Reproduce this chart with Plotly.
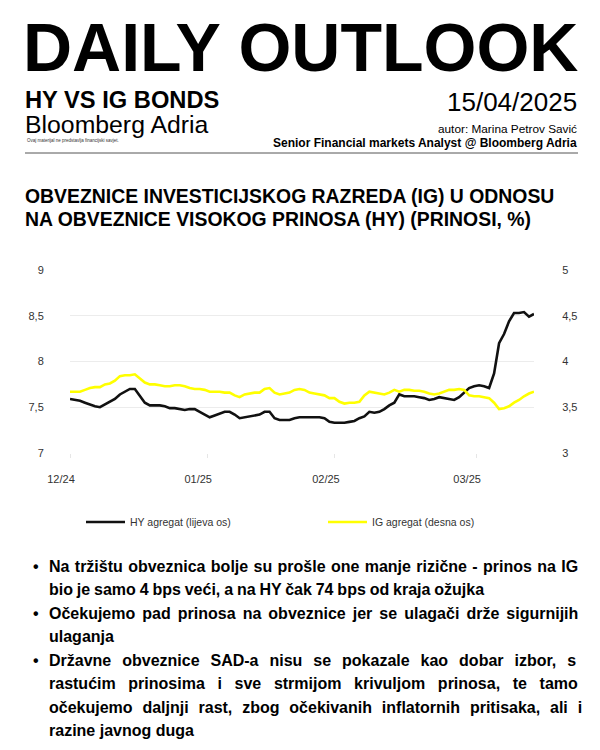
import plotly.graph_objects as go

# ---------------- data ----------------
day_index = list(range(94))

hy_yield = [7.59, 7.58, 7.57, 7.55, 7.53, 7.51, 7.50, 7.53, 7.56, 7.59,
            7.64, 7.67, 7.70, 7.70, 7.62, 7.55, 7.52, 7.52, 7.52, 7.51,
            7.49, 7.49, 7.48, 7.47, 7.48, 7.48, 7.45, 7.42, 7.39, 7.41,
            7.43, 7.45, 7.45, 7.42, 7.38, 7.39, 7.40, 7.41, 7.42, 7.45,
            7.45, 7.38, 7.36, 7.36, 7.36, 7.38, 7.39, 7.39, 7.39, 7.39,
            7.39, 7.38, 7.34, 7.33, 7.33, 7.33, 7.34, 7.35, 7.38, 7.40,
            7.45, 7.44, 7.45, 7.48, 7.52, 7.55, 7.64, 7.62, 7.62, 7.62,
            7.61, 7.60, 7.58, 7.59, 7.61, 7.60, 7.59, 7.58, 7.61, 7.66,
            7.71, 7.73, 7.74, 7.73, 7.71, 7.87, 8.20, 8.30, 8.44, 8.53,
            8.53, 8.54, 8.49, 8.52]

ig_yield = [3.67, 3.67, 3.67, 3.69, 3.71, 3.72, 3.72, 3.75, 3.76, 3.79,
            3.84, 3.85, 3.85, 3.86, 3.81, 3.77, 3.75, 3.75, 3.74, 3.73,
            3.73, 3.74, 3.74, 3.73, 3.71, 3.70, 3.70, 3.69, 3.67, 3.67,
            3.67, 3.66, 3.66, 3.63, 3.61, 3.64, 3.65, 3.66, 3.66, 3.70,
            3.71, 3.66, 3.64, 3.65, 3.66, 3.69, 3.70, 3.69, 3.66, 3.65,
            3.64, 3.63, 3.60, 3.60, 3.56, 3.54, 3.55, 3.55, 3.56, 3.63,
            3.67, 3.66, 3.65, 3.64, 3.66, 3.69, 3.67, 3.69, 3.69, 3.68,
            3.68, 3.67, 3.65, 3.64, 3.65, 3.67, 3.69, 3.69, 3.70, 3.69,
            3.63, 3.62, 3.62, 3.61, 3.60, 3.55, 3.48, 3.49, 3.51, 3.55,
            3.58, 3.62, 3.65, 3.67]

month_tick_index = [0, 27.5, 53.1, 81.4]
month_tick_labels = ["12/24", "01/25", "02/25", "03/25"]

left_ticks = [7, 7.5, 8, 8.5, 9]
right_ticks = [3, 3.5, 4, 4.5, 5]

series_names = ["HY agregat (lijeva os)", "IG agregat (desna os)"]

# (text line, extra word spacing in px for justification)
bullets = [
    [("Na tržištu obveznica bolje su prošle one manje rizične - prinos na IG", 0.9),
     ("bio je samo 4 bps veći, a na HY čak 74 bps od kraja ožujka", -0.6)],
    [("Očekujemo pad prinosa na obveznice jer se ulagači drže sigurnijih", 2.6),
     ("ulaganja", 0)],
    [("Državne obveznice SAD-a nisu se pokazale kao dobar izbor, s", 6.5),
     ("rastućim prinosima i sve strmijom krivuljom prinosa, te tamo", 8.2),
     ("očekujemo daljnji rast, zbog očekivanih inflatornih pritisaka, ali i", 5.4),
     ("razine javnog duga", 0)],
]

# ---------------- figure ----------------
OFF = 8                       # page body margin
W, H = 600 - OFF, 750 - OFF
FONT = "Liberation Sans, Arial, Helvetica, sans-serif"


def px(x):
    return (x - OFF) / W


def py(y):
    return 1 - (y - OFF) / H


fig = go.Figure()
fig.add_trace(go.Scatter(x=day_index, y=hy_yield, name=series_names[0],
                         mode="lines", line=dict(color="#111111", width=2.6),
                         yaxis="y", legend="legend"))
fig.add_trace(go.Scatter(x=day_index, y=ig_yield, name=series_names[1],
                         mode="lines", line=dict(color="#ffff00", width=2.6),
                         yaxis="y2", legend="legend2"))

x0, x1 = 70, 534
ytop, ybot = 270, 453

legend_common = dict(orientation="h", xanchor="left", yanchor="middle",
                     itemwidth=39,
                     font=dict(family=FONT, size=10.5, color="#333333"),
                     bgcolor="rgba(0,0,0,0)")

fig.update_layout(
    width=W, height=H, autosize=False,
    margin=dict(l=0, r=0, t=0, b=0, autoexpand=False),
    paper_bgcolor="white", plot_bgcolor="white",
    separators=",.",
    font=dict(family=FONT, color="#333333", size=11),
    showlegend=True,
    legend=dict(x=px(81), y=py(522), **legend_common),
    legend2=dict(x=px(323), y=py(522), **legend_common),
    xaxis=dict(domain=[px(x0), px(x1)], range=[0, 93], automargin=False,
               tickvals=month_tick_index, ticktext=month_tick_labels,
               showgrid=False, zeroline=False, showline=False,
               ticks="outside", ticklen=4, tickcolor="#e6e6e6",
               ticklabelstandoff=12, ticklabelshift=-9,
               tickfont=dict(size=11, color="#333333")),
    yaxis=dict(domain=[py(ybot), py(ytop)], range=[7, 9], automargin=False,
               tickvals=left_ticks, showgrid=True, gridcolor="#ececec",
               gridwidth=1, zeroline=False, showline=False,
               ticks="outside", ticklen=23, tickcolor="rgba(0,0,0,0)",
               tickfont=dict(size=11, color="#333333")),
    yaxis2=dict(overlaying="y", side="right", range=[3, 5], automargin=False,
                tickvals=right_ticks, showgrid=False, zeroline=False,
                showline=False, anchor="x",
                ticks="outside", ticklen=25, tickcolor="rgba(0,0,0,0)",
                tickfont=dict(size=11, color="#333333")),
)

ann = []


def text(x, y, s, size, bold=False, anchor="left", color="#000000", wsp=None):
    t = ("<b>%s</b>" % s) if bold else s
    if wsp:
        t = '<span style="word-spacing:%.1fpx">%s</span>' % (wsp, t)
    ann.append(dict(xref="paper", yref="paper", x=px(x), y=py(y),
                    text=t, showarrow=False,
                    xanchor=anchor, yanchor="middle",
                    font=dict(family=FONT, size=size, color=color)))


text(21, 47, "DAILY OUTLOOK", 68, bold=True)
text(23, 100, "HY VS IG BONDS", 23.7, bold=True)
text(23, 124.5, "Bloomberg Adria", 24.8)
text(25, 141, "Ovaj materijal ne predstavlja financijski savjet.", 4.5, color="#333333")
text(579, 102, "15/04/2025", 26, anchor="right")
text(579, 129, "autor: Marina Petrov Savić", 11.8, anchor="right")
text(579, 143, "Senior Financial markets Analyst @ Bloomberg Adria", 12, bold=True, anchor="right")

text(23, 196, "OBVEZNICE INVESTICIJSKOG RAZREDA (IG) U ODNOSU", 19.4, bold=True)
text(23, 219, "NA OBVEZNICE VISOKOG PRINOSA (HY) (PRINOSI, %)", 19.4, bold=True)

line_y = 566
for group in bullets:
    text(31, line_y, "•", 16, bold=True)
    for ln, wsp in group:
        text(47, line_y, ln, 16, bold=True, wsp=wsp)
        line_y += 23.5

fig.update_layout(annotations=ann)

fig.add_shape(type="line", xref="paper", yref="paper",
              x0=px(25), x1=px(578), y0=py(153), y1=py(153),
              line=dict(color="#555555", width=1))

fig.write_html("out.html", config={"displayModeBar": False})
